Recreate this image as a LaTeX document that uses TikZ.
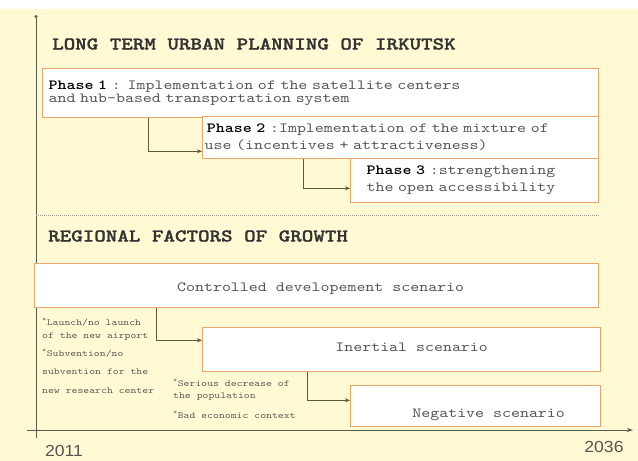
\documentclass[tikz,border=0pt]{standalone}
\usepackage{fontspec}
\usetikzlibrary{arrows.meta,calc}
\newfontfamily\monof{lmmono10-regular.otf}[FakeStretch=1.22, BoldFont=lmmonolt10-bold.otf, BoldFeatures={FakeStretch=1.22}]
\newfontfamily\titlef{lmmonolt10-bold.otf}[FakeStretch=1.22, FakeBold=1.3]
\newfontfamily\sansf[FakeStretch=1.1]{Liberation Sans}
\definecolor{bgyellow}{HTML}{FFFAD4}
\definecolor{boxborder}{HTML}{EBA46A}
\definecolor{connc}{HTML}{5E5B35}
\definecolor{axisc}{HTML}{5A5A50}
\definecolor{txtc}{HTML}{555555}
\definecolor{titlec}{HTML}{333333}
\definecolor{notec}{HTML}{5A5A55}
\definecolor{dotc}{HTML}{9A9A90}
\begin{document}
\begin{tikzpicture}[x=1pt,y=-1pt,
  box/.style={draw=boxborder, line width=1.3pt, fill=white, rectangle, anchor=north west, inner ysep=0pt},
  phasetxt/.style={font=\monof\fontsize{14}{17}\selectfont, text=txtc, align=left},
  scentxt/.style={font=\monof\fontsize{14}{15}\selectfont, text=txtc, inner sep=0pt},
  titletxt/.style={font=\titlef\fontsize{18}{20}\selectfont, text=titlec, anchor=west, inner sep=0pt},
  notetxt/.style={font=\monof\fontsize{9.2}{10}\selectfont, text=notec, anchor=west, inner sep=0pt},
  yeartxt/.style={font=\sansf\fontsize{16}{18}\selectfont, text=txtc, inner sep=0pt},
  conn/.style={draw=connc, line width=1pt, -{Stealth[length=5pt,width=4pt]}},
  axisline/.style={draw=axisc, line width=1pt}
]
\useasboundingbox (0,0) rectangle (638,461);
\fill[white] (0,0) rectangle (638,9);
\fill[bgyellow] (0,9) rectangle (638,461);

% axes
\coordinate (vtop) at (36,15);
\coordinate (vbot) at (36,438);
\coordinate (hleft) at (27,430);
\coordinate (hright) at (633,430);
\draw[axisline, -{Circle[length=3pt]}] (vbot) -- (vtop);
\draw[axisline, -{Stealth[length=6pt,width=4pt]}] (hleft) -- (hright);

% title
\node[titletxt] (title) at (52,44) {LONG TERM URBAN PLANNING OF IRKUTSK};

% phases
\node[box, minimum width=556pt, minimum height=49pt, text width=544pt, inner xsep=6pt, phasetxt, font=\monof\fontsize{14}{13.5}\selectfont] (p1) at (42,68)
  {{\bfseries\color{black}Phase 1} : Implementation of the satellite centers\\and hub-based transportation system};
\node[box, minimum width=396pt, minimum height=42pt, text width=392pt, inner xsep=2pt, phasetxt] (p2) at (202,116)
  {\,{\bfseries\color{black}Phase 2} :Implementation of the mixture of\\use (incentives + attractiveness)};
\node[box, minimum width=248pt, minimum height=44pt, text width=216pt, inner xsep=16pt, phasetxt] (p3) at (350,158)
  {{\bfseries\color{black}Phase 3} :strengthening\\the open accessibility};

\draw[conn] ([xshift=106pt]p1.south west) |- ([yshift=8pt]p2.south west);
\draw[conn] ([xshift=101pt]p2.south west) |- ([yshift=15pt]p3.south west);

% dotted separator
\coordinate (dl) at (36,215);
\coordinate (dr) at (600,215);
\draw[dotc, line width=0.8pt, dash pattern=on 1pt off 1pt] (dl) -- (dr);

\node[titletxt] (regional) at (48,236) {REGIONAL FACTORS OF GROWTH};

% scenarios
\node[box, minimum width=564pt, minimum height=44pt] (ctrl) at (34,263) {};
\node[scentxt] (ctrltxt) at ([xshift=4pt,yshift=-3pt]ctrl.center) {Controlled developement scenario};
\node[box, minimum width=398pt, minimum height=44pt] (inert) at (202,327) {};
\node[scentxt] (inerttxt) at ([xshift=10pt,yshift=2pt]inert.center) {Inertial scenario};
\node[box, minimum width=250pt, minimum height=41pt] (neg) at (350,385) {};
\node[scentxt] (negtxt) at ([xshift=13pt,yshift=-9pt]neg.center) {Negative scenario};

\draw[conn] ([xshift=122pt]ctrl.south west) |- ([yshift=32pt]inert.south west);
\draw[conn] ([xshift=105pt]inert.south west) |- ([yshift=27pt]neg.south west);

% notes
\node[notetxt] (n1) at (42,322) {\textsuperscript{*}Launch/no launch};
\node[notetxt] (n2) at (42,337) {of the new airport};
\node[notetxt] (n3) at (42,353) {\textsuperscript{*}Subvention/no};
\node[notetxt] (n4) at (42,372) {subvention for the};
\node[notetxt] (n5) at (42,391) {new research center};
\node[notetxt] (m1) at (173,383) {\textsuperscript{*}Serious decrease of};
\node[notetxt] (m2) at (173,397) {the population};
\node[notetxt] (m3) at (173,415) {\textsuperscript{*}Bad economic context};

% years
\node[yeartxt] (y1) at (64,451) {2011};
\node[yeartxt] (y2) at (604,447) {2036};
\end{tikzpicture}
\end{document}
